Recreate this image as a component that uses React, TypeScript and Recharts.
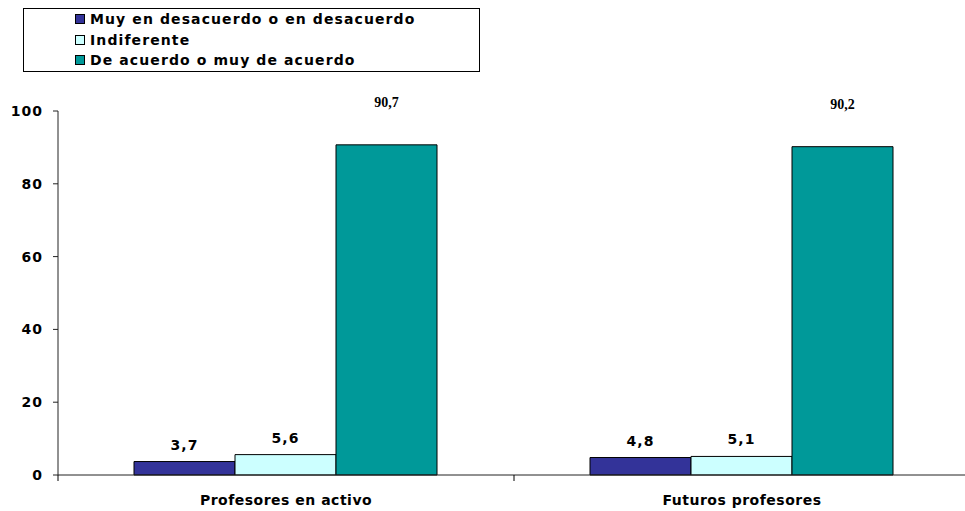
import { Bar, BarChart, LabelList, XAxis, YAxis } from "recharts";

const groups = ["Profesores en activo", "Futuros profesores"];
const desacuerdo = [3.7, 4.8];
const indiferente = [5.6, 5.1];
const deAcuerdo = [90.7, 90.2];
const yTicks = [0, 20, 40, 60, 80, 100];

const seriesNames = ["Muy en desacuerdo o en desacuerdo", "Indiferente", "De acuerdo o muy de acuerdo"];
const colors = ["#333399", "#ccffff", "#009999"];

const data = groups.map((g, i) => ({ name: g, a: desacuerdo[i], b: indiferente[i], c: deAcuerdo[i] }));

const W = 970;
const H = 511;
const LEFT = 58;
const sans = "'DejaVu Sans', Verdana, sans-serif";
const fmt = (v: any) => String(v).replace(".", ",");
const sansLabel = { fontFamily: sans, fontWeight: "bold", fontSize: 14, fill: "#000", letterSpacing: 1 } as const;

function LegendBox() {
  return (
    <div style={{ position: "absolute", left: 23, top: 8, width: 457, height: 64, border: "1px solid #000", boxSizing: "border-box", paddingLeft: 51, paddingTop: 0, fontFamily: sans, fontWeight: "bold", fontSize: 14, letterSpacing: 1.1, lineHeight: "20.5px" }}>
      {seriesNames.map((n, i) => (
        <div key={n} style={{ display: "flex", alignItems: "center" }}>
          <span style={{ width: 8, height: 8, border: "1px solid #000", background: colors[i], marginRight: 5, display: "inline-block" }} />
          {n}
        </div>
      ))}
    </div>
  );
}

function CatTick(props: any) {
  const { x, y, payload } = props;
  const band = (W - LEFT) / groups.length;
  return (
    <g>
      <line x1={x - band / 2} y1={y - 8} x2={x - band / 2} y2={y - 2} stroke="#000" />
      <text x={x} y={y + 22} textAnchor="middle" {...sansLabel} letterSpacing={0.5}>{payload.value}</text>
    </g>
  );
}

export default function App() {
  return (
    <div style={{ position: "absolute", left: 0, top: 0, width: 965, height: H, overflow: "hidden", background: "#fff" }}>
      <LegendBox />
      <BarChart width={W} height={H} data={data} margin={{ top: 111, right: 0, bottom: 6, left: 0 }} barGap={0} barCategoryGap={76}>
        <YAxis domain={[0, 100]} ticks={yTicks} width={LEFT} axisLine={{ stroke: "#222" }} tickLine={{ stroke: "#222" }} tickSize={5} tickMargin={10} interval={0}
          tick={sansLabel} />
        <XAxis dataKey="name" height={30} axisLine={{ stroke: "#222" }} tickLine={false} tick={<CatTick />} interval={0} />
        <Bar dataKey="a" name={seriesNames[0]} fill={colors[0]} stroke="#000" strokeWidth={1} isAnimationActive={false}>
          <LabelList dataKey="a" position="top" offset={12} formatter={fmt} style={sansLabel} />
        </Bar>
        <Bar dataKey="b" name={seriesNames[1]} fill={colors[1]} stroke="#000" strokeWidth={1} isAnimationActive={false}>
          <LabelList dataKey="b" position="top" offset={12} formatter={fmt} style={sansLabel} />
        </Bar>
        <Bar dataKey="c" name={seriesNames[2]} fill={colors[2]} stroke="#000" strokeWidth={1} isAnimationActive={false}>
          <LabelList dataKey="c" position="top" offset={38} formatter={fmt} style={{ fontFamily: "'Liberation Serif', 'Times New Roman', serif", fontWeight: "bold", fontSize: 14, fill: "#000" }} />
        </Bar>
      </BarChart>
    </div>
  );
}
